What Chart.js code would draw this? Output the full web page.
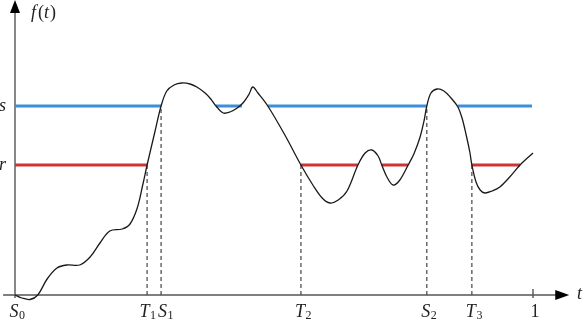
<!DOCTYPE html>
<html>
<head>
<meta charset="utf-8">
<script src="https://cdn.jsdelivr.net/npm/chart.js@4"></script>
<style>
    body { margin: 0; background: #fff; }
    #wrap { width: 588px; height: 329px; position: relative; }
</style>
</head>
<body>
<div id="wrap"><canvas id="chart"></canvas></div>
<script>
// curve f(t)
const tValues = [0, 0.0135, 0.029, 0.044, 0.062, 0.081, 0.100, 0.125, 0.145, 0.164, 0.183, 0.207, 0.222, 0.236, 0.247,
    0.255, 0.270, 0.282, 0.293, 0.307, 0.322, 0.338, 0.351, 0.367, 0.378, 0.388, 0.402, 0.415, 0.429, 0.440, 0.452,
    0.459, 0.469, 0.488, 0.521, 0.552, 0.575, 0.593, 0.608, 0.624, 0.641, 0.662, 0.676, 0.689, 0.701, 0.708, 0.718,
    0.730, 0.743, 0.759, 0.770, 0.782, 0.790, 0.795, 0.803, 0.815, 0.828, 0.840, 0.855, 0.863, 0.871, 0.878,
    0.882, 0.890, 0.898, 0.907, 0.921, 0.936, 0.955, 0.975, 1.0];
const fValues = [0, -0.03, -0.045, 0, 0.16, 0.27, 0.30, 0.30, 0.38, 0.52, 0.64, 0.66, 0.71, 0.87, 1.11,
    1.30, 1.63, 1.89, 2.04, 2.10, 2.12, 2.11, 2.08, 2.02, 1.96, 1.89, 1.82, 1.83, 1.87, 1.92, 2.01,
    2.08, 2.02, 1.89, 1.60, 1.30, 1.10, 0.97, 0.92, 0.95, 1.04, 1.30, 1.42, 1.45, 1.39, 1.30, 1.18,
    1.10, 1.15, 1.30, 1.41, 1.58, 1.75, 1.89, 2.02, 2.06, 2.04, 1.98, 1.88, 1.77, 1.60, 1.43,
    1.30, 1.13, 1.05, 1.02, 1.04, 1.08, 1.18, 1.30, 1.42];

// levels and where they are drawn (where the curve is below them)
const sLevel = 1.89;
const rLevel = 1.30;
const sSegments = [[0, 0.282], [0.388, 0.438], [0.488, 0.795], [0.855, 0.998]];
const rSegments = [[0, 0.255], [0.552, 0.662], [0.708, 0.759], [0.882, 0.975]];

// marked times on the t axis
const markT = [0.255, 0.282, 0.552, 0.795, 0.882];
const markLevel = [rLevel, sLevel, rLevel, sLevel, rLevel];
const axisLabels = ['S0', 'T1', 'S1', 'T2', 'S2', 'T3', '1'];
const axisLabelT = [0, 0.255, 0.282, 0.552, 0.795, 0.882, 1];

const SERIF = '"Liberation Serif", "DejaVu Serif", serif';
// T1 and S1 sit close together, push them apart a bit
const labelNudge = { T1: -1.5, S1: 2.5 };

const curve = tValues.map((t, i) => ({ x: t, y: fValues[i] }));

function segmentPoints(segs, level) {
    const pts = [];
    segs.forEach(s => {
        pts.push({ x: s[0], y: level }, { x: s[1], y: level }, { x: s[1], y: null });
    });
    return pts;
}

const dashSets = markT.map((t, i) => ({
    data: [{ x: t, y: 0 }, { x: t, y: markLevel[i] }],
    showLine: true,
    borderColor: '#444',
    borderWidth: 1.2,
    borderDash: [4, 3],
    pointRadius: 0,
    order: 3
}));

const axesPlugin = {
    id: 'axes',
    beforeDatasetsDraw(chart) {
        const { ctx, scales: { x, y } } = chart;
        const x0 = x.getPixelForValue(0);
        const y0 = y.getPixelForValue(0);
        ctx.save();
        ctx.strokeStyle = '#555';
        ctx.fillStyle = '#000';
        ctx.lineWidth = 1.4;
        ctx.beginPath();
        ctx.moveTo(x.getPixelForValue(-0.023), y0);
        ctx.lineTo(x.getPixelForValue(1.045), y0);
        ctx.moveTo(x0, y.getPixelForValue(-0.03));
        ctx.lineTo(x0, y.getPixelForValue(2.83));
        // tick at t = 1
        ctx.moveTo(x.getPixelForValue(1), y.getPixelForValue(0.06));
        ctx.lineTo(x.getPixelForValue(1), y.getPixelForValue(-0.03));
        ctx.stroke();

        // arrow heads
        const xe = x.getPixelForValue(1.07);
        ctx.beginPath();
        ctx.moveTo(xe, y0);
        ctx.lineTo(xe - 14, y0 - 5);
        ctx.lineTo(xe - 14, y0 + 5);
        ctx.closePath();
        ctx.fill();
        const ye = y.getPixelForValue(2.95);
        ctx.beginPath();
        ctx.moveTo(x0, ye);
        ctx.lineTo(x0 - 5, ye + 13);
        ctx.lineTo(x0 + 5, ye + 13);
        ctx.closePath();
        ctx.fill();
        ctx.restore();
    },
    afterDraw(chart) {
        const { ctx, scales: { x, y } } = chart;
        const y0 = y.getPixelForValue(0);
        ctx.save();
        ctx.fillStyle = '#222';
        ctx.textBaseline = 'middle';

        const drawLabel = (txt, cx, cy, align) => {
            const main = txt[0];
            const sub = txt.slice(1);
            const style = isNaN(Number(txt)) ? 'italic ' : '';
            ctx.font = style + '18px ' + SERIF;
            const wMain = ctx.measureText(main).width;
            ctx.font = '12px ' + SERIF;
            const wSub = sub ? ctx.measureText(sub).width : 0;
            let left = cx - (wMain + wSub) / 2;
            if (align === 'right') left = cx - wMain - wSub;
            ctx.textAlign = 'left';
            ctx.font = style + '18px ' + SERIF;
            ctx.fillText(main, left, cy);
            if (sub) {
                ctx.font = '12px ' + SERIF;
                ctx.fillText(sub, left + wMain + 0.5, cy + 4);
            }
        };

        axisLabels.forEach((lab, i) => {
            const dx = 2 + (labelNudge[lab] || 0);
            drawLabel(lab, x.getPixelForValue(axisLabelT[i]) + dx, y0 + 17);
        });
        drawLabel('t', x.getPixelForValue(1.09), y0 - 1);
        drawLabel('s', 6, y.getPixelForValue(sLevel), 'right');
        drawLabel('r', 6, y.getPixelForValue(rLevel), 'right');

        ctx.textAlign = 'left';
        ctx.font = 'italic 18px ' + SERIF;
        ctx.fillText('f', 31, 13);
        ctx.font = '18px ' + SERIF;
        ctx.fillText('(', 38, 13);
        ctx.font = 'italic 18px ' + SERIF;
        ctx.fillText('t', 44, 13);
        ctx.font = '18px ' + SERIF;
        ctx.fillText(')', 50, 13);
        ctx.restore();
    }
};

function drawChart() {
    new Chart(document.getElementById('chart'), {
        type: 'scatter',
        data: {
            datasets: [
                {
                    data: curve,
                    showLine: true,
                    borderColor: '#1a1a1a',
                    borderWidth: 1.3,
                    pointRadius: 0,
                    tension: 0.35,
                    order: 0
                },
                {
                    data: segmentPoints(sSegments, sLevel),
                    showLine: true,
                    spanGaps: false,
                    borderColor: '#3b8fdc',
                    borderWidth: 3,
                    pointRadius: 0,
                    order: 2
                },
                {
                    data: segmentPoints(rSegments, rLevel),
                    showLine: true,
                    spanGaps: false,
                    borderColor: '#cf3434',
                    borderWidth: 3,
                    pointRadius: 0,
                    order: 2
                },
                ...dashSets
            ]
        },
        options: {
            responsive: true,
            maintainAspectRatio: false,
            animation: false,
            layout: { padding: 0 },
            plugins: {
                legend: { display: false },
                tooltip: { enabled: false }
            },
            scales: {
                x: { type: 'linear', display: false, min: -15 / 518, max: 573 / 518 },
                y: { type: 'linear', display: false, min: -0.34, max: 2.95 }
            }
        },
        plugins: [axesPlugin]
    });
}

Promise.all([
    document.fonts.load('italic 18px "Liberation Serif"'),
    document.fonts.load('18px "Liberation Serif"')
]).then(drawChart, drawChart);
</script>
</body>
</html>
